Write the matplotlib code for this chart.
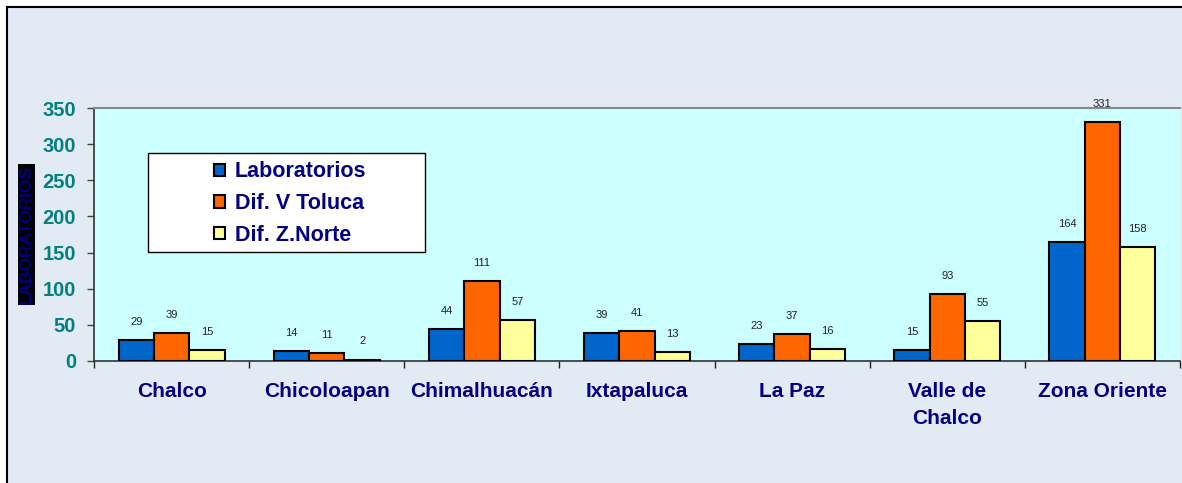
import matplotlib
matplotlib.use("Agg")
import matplotlib.pyplot as plt
from matplotlib.patches import Rectangle
from matplotlib.lines import Line2D
import numpy as np

plt.rcParams['font.family'] = ['Liberation Sans', 'DejaVu Sans']

categories = ['Chalco', 'Chicoloapan', 'Chimalhuacán', 'Ixtapaluca', 'La Paz',
              'Valle de\nChalco', 'Zona Oriente']
series_names = ['Laboratorios', 'Dif. V Toluca', 'Dif. Z.Norte']
laboratorios = [29, 14, 44, 39, 23, 15, 164]
dif_toluca = [39, 11, 111, 41, 37, 93, 331]
dif_norte = [15, 2, 57, 13, 16, 55, 158]
yticks = [0, 50, 100, 150, 200, 250, 300, 350]

colors = ['#0066cc', '#ff6600', '#ffff99']
navy = '#000080'
teal = '#008080'

W, H = 1182, 483
fig = plt.figure(figsize=(W / 100, H / 100), dpi=100)
fig.patch.set_facecolor('white')

# backdrop (flat colour) with black left/top border
fig.patches.append(Rectangle((7 / W, 0), 1 - 7 / W, 1 - 7 / H,
                             transform=fig.transFigure, facecolor='#e2eaf4',
                             edgecolor='none', zorder=-10))
fig.lines.append(Line2D([7 / W, 7 / W], [0, 1 - 7 / H], transform=fig.transFigure,
                        color='black', lw=1.5))
fig.lines.append(Line2D([7 / W, 1], [1 - 7 / H, 1 - 7 / H], transform=fig.transFigure,
                        color='black', lw=1.5))

ax = fig.add_axes([94 / W, 1 - 361 / H, (1180 - 94) / W, (361 - 108) / H])
ax.set_facecolor('#ccffff')

x = np.arange(len(categories))
bw = 0.228
all_series = [laboratorios, dif_toluca, dif_norte]
for i, (vals, col, name) in enumerate(zip(all_series, colors, series_names)):
    pos = x + (i - 1) * bw
    ax.bar(pos, vals, width=bw, color=col, edgecolor='black', linewidth=1.5,
           label=name, zorder=3)
    for px, v in zip(pos, vals):
        ax.annotate(str(v), (px, v), xytext=(0, 13), textcoords='offset points',
                    ha='center', va='center', fontsize=8, color='#222222')

ax.set_xlim(-0.5, len(categories) - 0.5)
ax.set_ylim(0, 350)
ax.set_yticks(yticks)
ax.tick_params(axis='y', direction='out', length=5, width=1, color='#444444',
               pad=8, labelsize=14.5, labelcolor=teal)
for lbl in ax.get_yticklabels():
    lbl.set_fontweight('bold')

ax.set_xticks(x)
ax.set_xticklabels(categories, fontsize=15, fontweight='bold', color=navy,
                   linespacing=1.55)
ax.tick_params(axis='x', which='major', length=0, pad=15)
ax.set_xticks(np.arange(len(categories) + 1) - 0.5, minor=True)
ax.tick_params(axis='x', which='minor', direction='out', length=5, width=1,
               color='#222222')

for side in ['left', 'bottom']:
    ax.spines[side].set_color('#333333')
    ax.spines[side].set_linewidth(1.2)
ax.spines['top'].set_color('#888888')
ax.spines['top'].set_linewidth(1.5)
ax.spines['right'].set_visible(False)

ax.set_ylabel('LABORATORIOS', fontsize=12.5, fontweight='bold', color=navy,
              bbox=dict(facecolor='black', edgecolor='none', pad=1))
ax.yaxis.set_label_coords(-60 / 1086, 0.5)

# legend frame and entries
ax.add_patch(Rectangle(((148 - 94) / 1086, (361 - 252) / 253), (425 - 148) / 1086,
                       (252 - 153) / 253, transform=ax.transAxes, facecolor='white',
                       edgecolor='black', linewidth=1, zorder=4))
leg = ax.legend(loc='upper left', bbox_to_anchor=((210 - 94) / 1086, (361 - 157) / 253),
                frameon=False, fontsize=15.5, handlelength=0.5, handleheight=0.5,
                handletextpad=0.45, labelspacing=0.5, borderpad=0.2, borderaxespad=0)
leg.set_zorder(5)
for t in leg.get_texts():
    t.set_color(navy)
    t.set_fontweight('bold')

fig.savefig('out.png', dpi=100, facecolor=fig.get_facecolor())
